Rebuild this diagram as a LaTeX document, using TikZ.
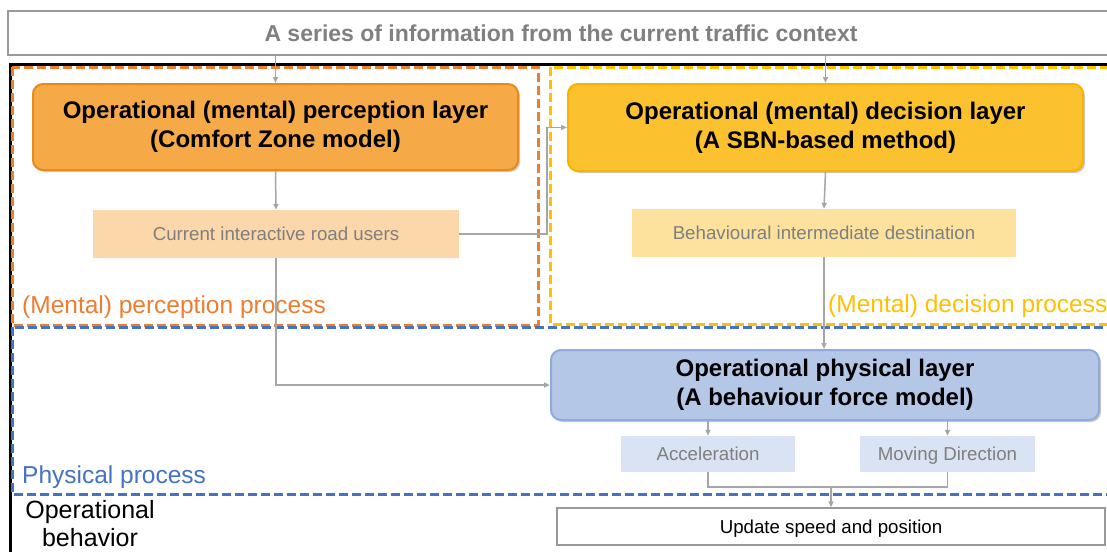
\documentclass[tikz,border=0pt]{standalone}
\usepackage{fontspec}
\setmainfont{Liberation Sans}
\usetikzlibrary{arrows.meta,shadows}
\definecolor{cOrD}{HTML}{ED7D31}
\definecolor{cOrF}{HTML}{F5A947}
\definecolor{cOrB}{HTML}{E88A1A}
\definecolor{cYeD}{HTML}{FFC000}
\definecolor{cYeF}{HTML}{FBC12E}
\definecolor{cYeB}{HTML}{F6B300}
\definecolor{cBlD}{HTML}{4472C4}
\definecolor{cBlF}{HTML}{B4C7E7}
\definecolor{cBlB}{HTML}{8FAADC}
\definecolor{cPeach}{HTML}{FBD7AA}
\definecolor{cCream}{HTML}{FDE29D}
\definecolor{cPale}{HTML}{DAE3F3}
\definecolor{cGrTx}{HTML}{7F7F7F}
\definecolor{cConn}{HTML}{A6A6A6}
\tikzset{
  conn/.style={draw=cConn, line width=1.5pt, -{Triangle[length=6pt,width=5pt]}},
  plain/.style={draw=cConn, line width=1.5pt},
  layerbox/.style={rounded corners=10pt, line width=2pt, align=center, font=\bfseries\fontsize{24}{29}\selectfont, inner sep=0pt,
     drop shadow={shadow xshift=2pt, shadow yshift=-2pt, opacity=0.35, fill=black!60}},
  infobox/.style={inner sep=0pt, font=\fontsize{18.7}{22}\selectfont, text=cGrTx, text height=13.5pt, text depth=0pt},
  procdash/.style={line width=3pt, dash pattern=on 9pt off 4pt},
  proclabel/.style={anchor=base west, inner sep=0pt, font=\fontsize{24.5}{28}\selectfont}
}
\begin{document}
\begin{tikzpicture}[x=1pt, y=-1pt]
\useasboundingbox (0,0) rectangle (1107,551);
\clip (0,0) rectangle (1107,551);
\fill[white] (0,0) rectangle (1107,551);
% outer black frame
\draw[line width=3pt, black] (10,64) rectangle (1125,570);
% dashed process regions
\draw[procdash, cOrD] (12,67) rectangle (538,325);
\draw[procdash, cYeD] (550,67) rectangle (1125,324);
\draw[procdash, cBlD] (12,327) rectangle (1125,494);
% top context box
\node[draw=gray!80, line width=2pt, fill=white, minimum width=1106pt, minimum height=44pt, inner sep=0pt,
      text=gray, font=\bfseries\fontsize{23}{26}\selectfont] (top) at (561,33) {A series of information from the current traffic context};
% layer boxes
\node[layerbox, fill=cOrF, draw=cOrB, minimum width=485pt, minimum height=86pt] (ob) at (275.5,127) {Operational (mental) perception layer\\(Comfort Zone model)};
\node[layerbox, fill=cYeF, draw=cYeB, minimum width=515pt, minimum height=87pt] (yb) at (825.5,127.5) {Operational (mental) decision layer\\(A SBN-based method)};
\node[layerbox, fill=cBlF, draw=cBlB, minimum width=548pt, minimum height=70pt] (pb) at (825,385) {Operational physical layer\\(A behaviour force model)};
% info boxes
\node[infobox, fill=cPeach, minimum width=366pt, minimum height=48pt] (cu) at (276,234) {Current interactive road users};
\node[infobox, fill=cCream, minimum width=384pt, minimum height=48pt] (bd) at (824,233) {Behavioural intermediate destination};
\node[infobox, fill=cPale, minimum width=174pt, minimum height=36pt] (acc) at (708,454) {Acceleration};
\node[infobox, fill=cPale, minimum width=175pt, minimum height=36pt] (mov) at (947.5,454) {Moving Direction};
\node[infobox, text=black, draw=gray!80, line width=1.2pt, fill=white, minimum width=548pt, minimum height=37pt] (upd) at (831,526.5) {Update speed and position};
% labels
\node[proclabel, text=cOrD] (lp) at (22,313) {(Mental) perception process};
\node[proclabel, text=cYeD] (ld) at (828,312) {(Mental) decision process};
\node[proclabel, text=cBlD] (lph) at (22,483) {Physical process};
\node[inner sep=0pt, align=center, font=\fontsize{25}{28}\selectfont] (ob2) at (90,524) {Operational\\behavior};
% connectors
\coordinate (j1) at (547,0);
\coordinate (j2) at (0,487);
\draw[conn] (ob.north |- top.south) -- (ob.north);
\draw[conn] (yb.north |- top.south) -- (yb.north);
\draw[conn] (ob.south) -- (cu.north);
\draw[conn] (cu.east) -- (cu.east -| j1) -- (j1 |- yb.west) -- (yb.west);
\draw[conn] (yb.south) -- (bd.north);
\draw[conn] (bd.south) -- (bd.south |- pb.north);
\draw[conn] (cu.south) |- (pb.west);
\draw[conn] (pb.south -| acc.north) -- (acc.north);
\draw[conn] (pb.south -| mov.north) -- (mov.north);
\draw[plain] (acc.south) -- (acc.south |- j2) -- (mov.south |- j2) -- (mov.south);
\draw[conn] (upd.north |- j2) -- (upd.north);
\end{tikzpicture}
\end{document}
